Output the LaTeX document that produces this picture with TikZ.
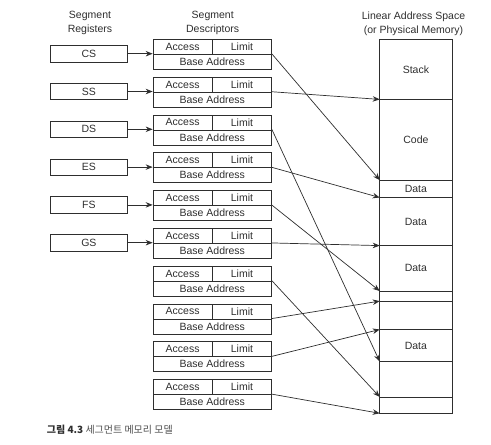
\documentclass[tikz,border=0pt]{standalone}
\usepackage{fontspec}
\setmainfont{Liberation Sans}
\newfontfamily\kofont{Noto Sans CJK KR}
\usetikzlibrary{arrows.meta}
\definecolor{ink}{HTML}{2E2E2E}
\begin{document}
\begin{tikzpicture}[x=1pt,y=-1pt,font=\fontsize{10.5}{13.7}\selectfont,color=ink]
		\tikzstyle{every node}+=[inner sep=0pt]
		\tikzstyle{regbox}=[draw=ink, line width=0.7pt, minimum width=76.3pt, minimum height=16.3pt]
		\tikzstyle{cellbox}=[draw=ink, line width=0.7pt, minimum width=59.3pt, minimum height=15pt]
		\tikzstyle{basebox}=[draw=ink, line width=0.7pt, minimum width=118.6pt, minimum height=15pt]
		\tikzstyle{membox}=[minimum width=72pt, anchor=north west]
		\tikzstyle{ptr}=[draw=ink, line width=0.7pt, -{Stealth[length=7pt,width=5.5pt]}]
		\useasboundingbox (0,0) rectangle (491,445);
		% headings
		\node [align=center] (hreg) at (90,23) {Segment\\Registers};
		\node [align=center] (hdesc) at (212.7,23) {Segment\\Descriptors};
		\node [align=center] (hmem) at (413.5,23.5) {Linear Address Space\\(or Physical Memory)};
		% segment registers
		\foreach \r [count=\i] in {CS,SS,DS,ES,FS,GS}
			\node [regbox] (r\i) at (88.85,{53.7+37.8*(\i-1)}) {\r};
		% segment descriptors
		\foreach \i in {1,...,10} {
			\node [cellbox] (d\i a) at (182.65,{46.8+37.8*(\i-1)}) {Access};
			\node [cellbox] (d\i l) at (241.95,{46.8+37.8*(\i-1)}) {Limit};
			\node [basebox] (d\i b) at (212.3,{61.8+37.8*(\i-1)}) {Base Address};
		}
		% memory
		\node [membox, minimum height=59.7pt] (m1) at (379.7,39.3) {Stack};
		\node [membox, minimum height=80.3pt] (m2) at (m1.south west) {Code};
		\node [membox, minimum height=17pt] (m3) at (m2.south west) {Data};
		\node [membox, minimum height=47.7pt] (m4) at (m3.south west) {Data};
		\node [membox, minimum height=45pt] (m5) at (m4.south west) {Data};
		\node [membox, minimum height=9.7pt] (m6) at (m5.south west) {};
		\node [membox, minimum height=28pt] (m7) at (m6.south west) {};
		\node [membox, minimum height=31.6pt] (m8) at (m7.south west) {Data};
		\node [membox, minimum height=35pt] (m9) at (m8.south west) {};
		\node [membox, minimum height=16pt] (m10) at (m9.south west) {};
		\draw [ink, line width=0.7pt] (m1.north west) rectangle (m10.south east);
		\foreach \i in {1,...,9}
			\draw [ink, line width=0.7pt] (m\i.south west) -- (m\i.south east);
		% registers to descriptors
		\foreach \i in {1,...,6}
			\draw [ptr] (r\i.east) -- (r\i.east -| d\i b.west);
		% descriptors to memory
		\draw [ptr] (d1b.north east) -- (m3.north west);
		\draw [ptr] (d2b.north east) -- (m2.north west);
		\draw [ptr] (d3b.north east) -- (m9.north west);
		\draw [ptr] (d4b.north east) -- (m4.north west);
		\draw [ptr] (d5b.north east) -- (m6.north west);
		\draw [ptr] (d6b.north east) -- (m5.north west);
		\draw [ptr] (d7b.north east) -- (m10.north west);
		\draw [ptr] (d8b.north east) -- (m7.north west);
		\draw [ptr] (d9b.north east) -- (m8.north west);
		\draw [ptr] (d10b.north east) -- (m10.south west);
		% caption
		\node [anchor=west, font=\kofont\fontsize{10}{12}\selectfont] (cap) at (46.7,429.3) {\textbf{그림 4.3} {\color{ink!85}세그먼트 메모리 모델}};
\end{tikzpicture}
\end{document}
